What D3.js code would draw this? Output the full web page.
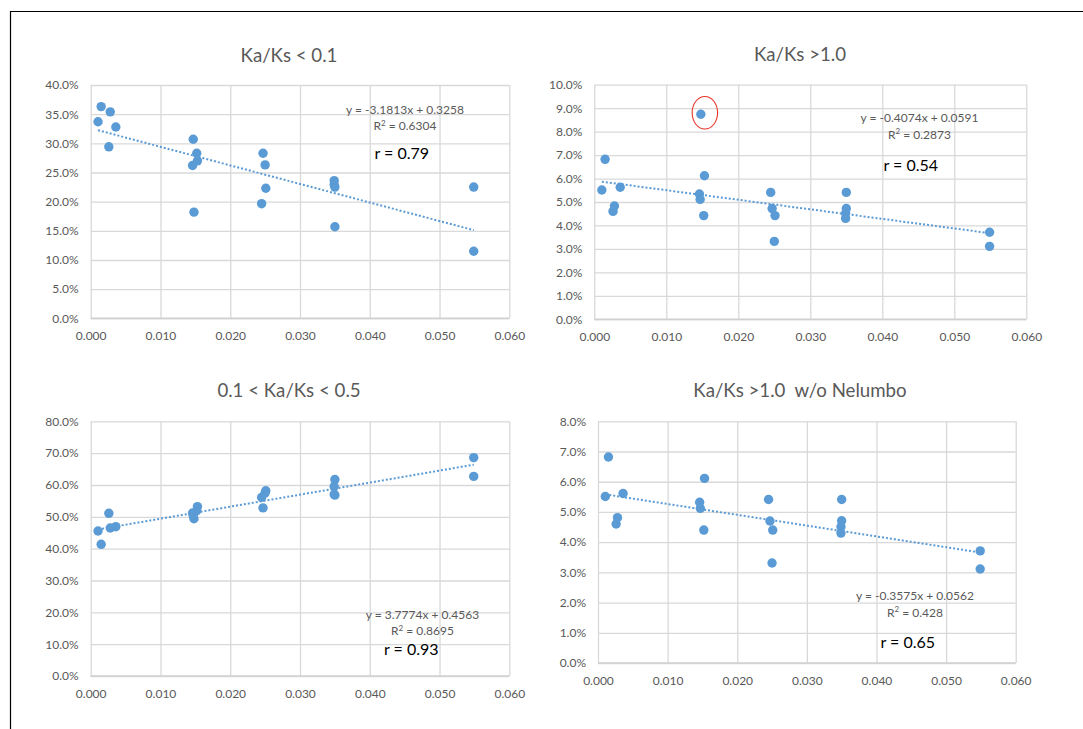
<!DOCTYPE html>
<html>
<head>
<meta charset="utf-8">
<script src="https://cdn.jsdelivr.net/npm/d3@7"></script>
<style>
  html, body { margin: 0; padding: 0; background: #fff; }
  svg { display: block; }
  text { font-family: Lato, "Open Sans", sans-serif; white-space: pre; }
</style>
</head>
<body>
<svg id="chart" width="1083" height="729"></svg>
<script>
// Ka/Ks (x) per species, shared by the first three panels
const kaks = [0.00105, 0.0015, 0.0026, 0.0028, 0.0036,
              0.0146, 0.0147, 0.0148, 0.0152, 0.0153,
              0.0245, 0.0247, 0.0250, 0.0251,
              0.0349, 0.0349, 0.0350, 0.0350,
              0.0549, 0.0549];

// Same species without Nelumbo (the 0.0148 outlier)
const kaksNoNelumbo = [0.00105, 0.0015, 0.0026, 0.0028, 0.0036,
                       0.0146, 0.0147, 0.0152, 0.0153,
                       0.0245, 0.0247, 0.0250, 0.0251,
                       0.0349, 0.0349, 0.0350, 0.0350,
                       0.0549, 0.0549];

// Proportion of genes in each Ka/Ks class
const shareBelow01 = [0.337, 0.363, 0.294, 0.354, 0.328,
                      0.262, 0.307, 0.182, 0.283, 0.270,
                      0.1965, 0.283, 0.263, 0.223,
                      0.236, 0.229, 0.225, 0.157,
                      0.225, 0.115];
const shareAbove1 = [0.0551, 0.0682, 0.0460, 0.0483, 0.0563,
                     0.0534, 0.0511, 0.0874, 0.0442, 0.0612,
                     0.0541, 0.0472, 0.0332, 0.0442,
                     0.0452, 0.0430, 0.0541, 0.0472,
                     0.0371, 0.0311];
const share01to05 = [0.4555, 0.4136, 0.511, 0.465, 0.469,
                     0.512, 0.503, 0.494, 0.519, 0.532,
                     0.561, 0.528, 0.575, 0.582,
                     0.595, 0.571, 0.617, 0.568,
                     0.686, 0.627];
const shareAbove1NoNelumbo = [0.0551, 0.0682, 0.0460, 0.0481, 0.0561,
                              0.0532, 0.0512, 0.0440, 0.0611,
                              0.0541, 0.0470, 0.0331, 0.0440,
                              0.0451, 0.0430, 0.0541, 0.0471,
                              0.0371, 0.0311];

// Axis ticks
const xTicks = [0, 0.01, 0.02, 0.03, 0.04, 0.05, 0.06];
const yTicks40 = [0, 0.05, 0.10, 0.15, 0.20, 0.25, 0.30, 0.35, 0.40];
const yTicks10 = [0, 0.01, 0.02, 0.03, 0.04, 0.05, 0.06, 0.07, 0.08, 0.09, 0.10];
const yTicks80 = [0, 0.1, 0.2, 0.3, 0.4, 0.5, 0.6, 0.7, 0.8];
const yTicks8 = [0, 0.01, 0.02, 0.03, 0.04, 0.05, 0.06, 0.07, 0.08];

// Panel titles and linear trend fits
const titles = ["Ka/Ks < 0.1", "Ka/Ks >1.0", "0.1 < Ka/Ks < 0.5", "Ka/Ks >1.0  w/o Nelumbo"];
const slopes = [-3.1813, -0.4074, 3.7774, -0.3575];
const intercepts = [0.3258, 0.0591, 0.4563, 0.0562];
const rSquared = ["0.6304", "0.2873", "0.8695", "0.428"];
const rValues = ["0.79", "0.54", "0.93", "0.65"];

const BLUE = "#5b9bd5";
const GRAY_TEXT = "#595959";
const GRID = "#d9d9d9";

const svg = d3.select("#chart");

// Outer frame (top and left edges)
svg.append("line").attr("x1", 10).attr("x2", 1083).attr("y1", 11.5).attr("y2", 11.5)
  .attr("stroke", "#000").attr("stroke-width", 1.2);
svg.append("line").attr("x1", 10.5).attr("x2", 10.5).attr("y1", 11).attr("y2", 729)
  .attr("stroke", "#000").attr("stroke-width", 1.2);

const panels = [
  { xs: kaks, ys: shareBelow01, yTicks: yTicks40,
    box: { l: 90.7, r: 509.3, t: 85, b: 318.3 }, titleX: 289, titleY: 61.5,
    eq: { x: 405, y: 113.5 }, r: { x: 374.5, y: 158.5 } },
  { xs: kaks, ys: shareAbove1, yTicks: yTicks10,
    box: { l: 594.3, r: 1026.3, t: 84.7, b: 319.3 }, titleX: 800, titleY: 61,
    eq: { x: 919.5, y: 122 }, r: { x: 883.5, y: 170.5 }, outlier: 7 },
  { xs: kaks, ys: share01to05, yTicks: yTicks80,
    box: { l: 90.7, r: 509.3, t: 421.3, b: 676 }, titleX: 289, titleY: 397,
    eq: { x: 422.5, y: 618.5 }, r: { x: 384, y: 655 } },
  { xs: kaksNoNelumbo, ys: shareAbove1NoNelumbo, yTicks: yTicks8,
    box: { l: 598, r: 1015.7, t: 421.3, b: 663 }, titleX: 800, titleY: 397,
    eq: { x: 915, y: 600 }, r: { x: 880.5, y: 647.5 } }
];

panels.forEach((p, i) => {
  const { l, r, t, b } = p.box;
  const x = d3.scaleLinear().domain([0, 0.06]).range([l, r]);
  const y = d3.scaleLinear().domain([0, d3.max(p.yTicks)]).range([b, t]);
  const g = svg.append("g");

  // Title
  g.append("text")
    .attr("x", p.titleX).attr("y", p.titleY)
    .attr("text-anchor", "middle")
    .attr("font-size", 18.67).attr("fill", GRAY_TEXT)
    .text(titles[i]);

  // Horizontal gridlines + y labels
  const yAxis = g.append("g").attr("transform", `translate(${l},0)`)
    .call(d3.axisLeft(y).tickValues(p.yTicks).tickFormat(d3.format(".1%"))
      .tickSize(-(r - l)).tickPadding(12));
  // Vertical gridlines + x labels
  const xAxis = g.append("g").attr("transform", `translate(0,${b})`)
    .call(d3.axisBottom(x).tickValues(xTicks).tickFormat(d3.format(".3f"))
      .tickSize(-(b - t)).tickPadding(13));

  [yAxis, xAxis].forEach(ax => {
    ax.select(".domain").remove();
    ax.selectAll(".tick line").attr("stroke", GRID).attr("stroke-width", 1.3);
    ax.selectAll(".tick text").attr("fill", GRAY_TEXT).attr("font-size", 12)
      .style("font-family", "Lato, 'Open Sans', sans-serif");
  });
  // Baseline of the horizontal axis
  g.append("line").attr("x1", l).attr("x2", r).attr("y1", b).attr("y2", b)
    .attr("stroke", "#d0d0d0").attr("stroke-width", 1.5);

  // Data points
  const pts = p.xs.map((v, k) => [v, p.ys[k]]);
  g.append("g").selectAll("circle").data(pts).join("circle")
    .attr("cx", d => x(d[0])).attr("cy", d => y(d[1]))
    .attr("r", 4.7).attr("fill", BLUE);

  // Linear trend line over the data range
  const [x0, x1] = d3.extent(p.xs);
  const fit = v => slopes[i] * v + intercepts[i];
  g.append("path")
    .datum([x0, x1])
    .attr("d", d3.line().x(v => x(v)).y(v => y(fit(v))))
    .attr("fill", "none").attr("stroke", BLUE).attr("stroke-width", 2)
    .attr("stroke-dasharray", "2,2");

  // Trend equation and R²
  const sign = intercepts[i] < 0 ? "-" : "+";
  g.append("text").attr("x", p.eq.x).attr("y", p.eq.y).attr("text-anchor", "middle")
    .attr("font-size", 12).attr("fill", GRAY_TEXT)
    .text(`y = ${slopes[i]}x ${sign} ${Math.abs(intercepts[i])}`);
  const r2 = g.append("text").attr("x", p.eq.x).attr("y", p.eq.y + 16.7)
    .attr("text-anchor", "middle").attr("font-size", 12).attr("fill", GRAY_TEXT);
  r2.append("tspan").text("R");
  r2.append("tspan").attr("font-size", 8).attr("dy", -4.5).text("2");
  r2.append("tspan").attr("dy", 4.5).text(` = ${rSquared[i]}`);

  // Correlation coefficient
  g.append("text").attr("x", p.r.x).attr("y", p.r.y)
    .attr("font-size", 16).attr("fill", "#000")
    .text(`r = ${rValues[i]}`);

  // Highlight the outlier
  if (p.outlier !== undefined) {
    g.append("ellipse")
      .attr("cx", x(p.xs[p.outlier]) + 4).attr("cy", y(p.ys[p.outlier]) - 1.5)
      .attr("rx", 12.7).attr("ry", 16.3)
      .attr("fill", "none").attr("stroke", "#e8342a").attr("stroke-width", 1.1);
  }
});
</script>
</body>
</html>
